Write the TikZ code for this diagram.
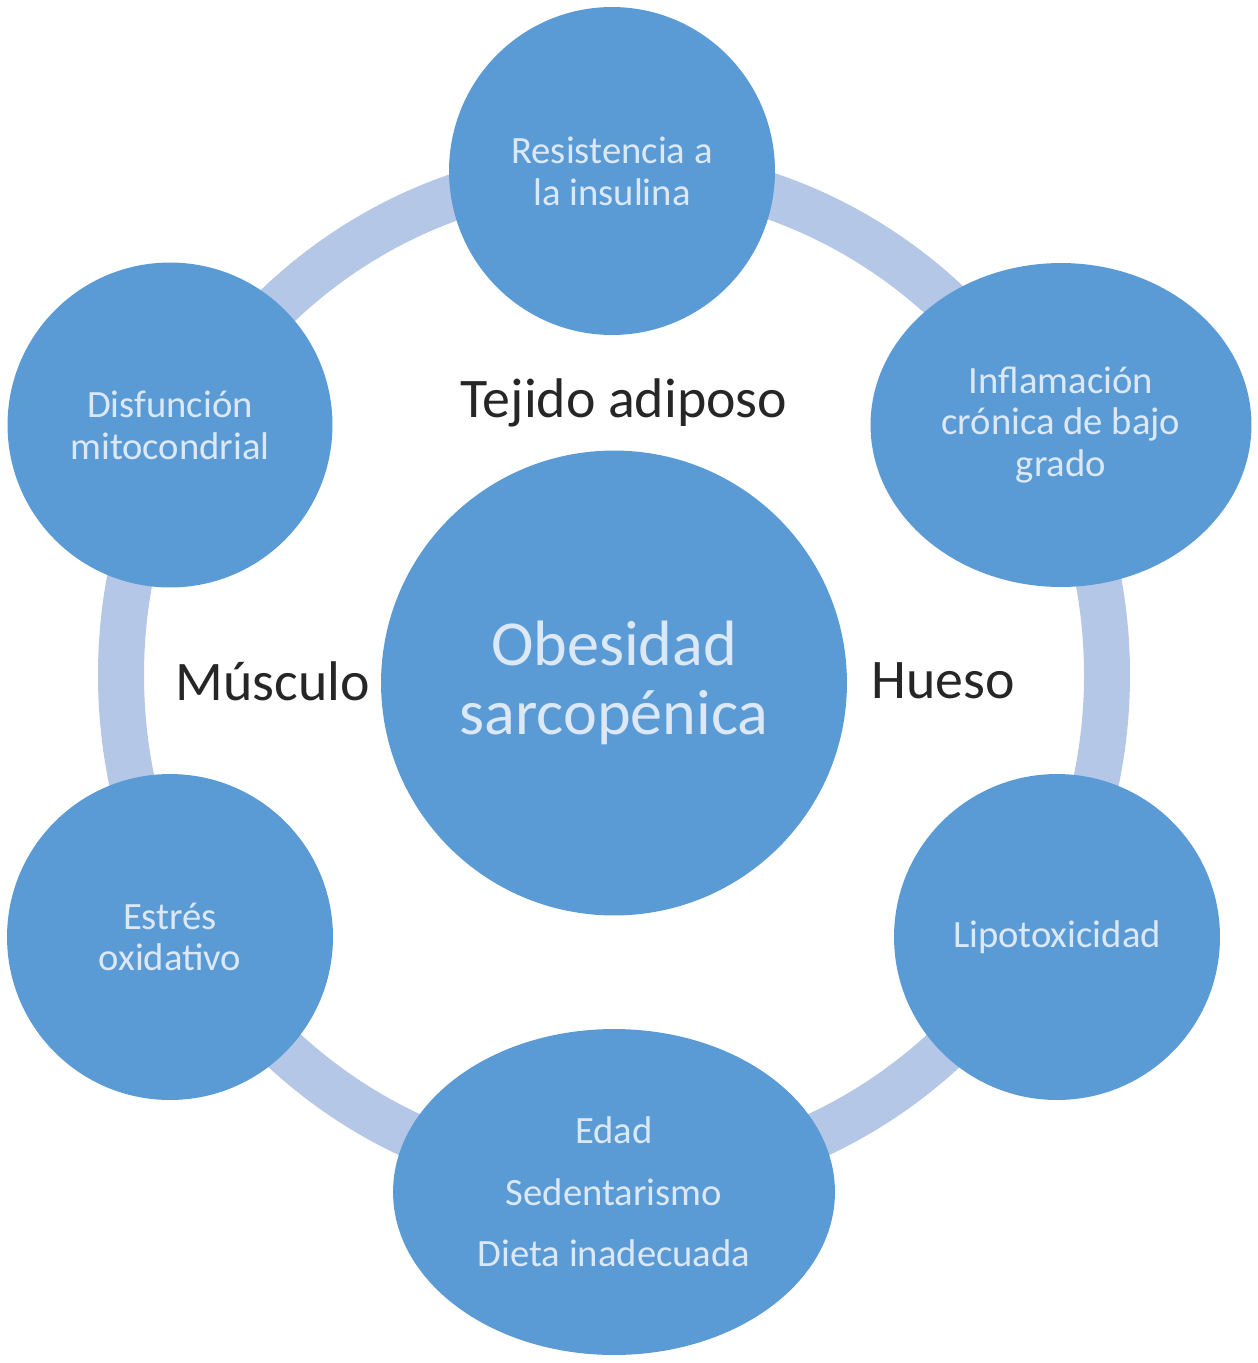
\documentclass[tikz,border=0pt]{standalone}
\usepackage{fontspec}
\setmainfont{Carlito}
\usetikzlibrary{shapes.geometric}
\definecolor{circblue}{HTML}{5B9BD5}
\definecolor{ringblue}{HTML}{B4C7E7}
\definecolor{paletext}{HTML}{DCE8F5}
\definecolor{labeltext}{HTML}{262626}
\tikzset{
  bubble/.style={ellipse, fill=circblue, draw=none, inner sep=0pt, align=center,
    text=paletext, font={\fontsize{22}{23.8}\selectfont}},
  sidelabel/.style={anchor=base, text=labeltext, font={\fontsize{31.8}{34}\selectfont}},
  ringband/.style={draw=ringblue, line width=0.92cm}
}
\begin{document}
\begin{tikzpicture}[x=0.02cm, y=-0.02cm]
\useasboundingbox (0,0) rectangle (1258,1363);
\fill[white] (0,0) rectangle (1258,1363);
% ring
\draw[ringband] (614,675) ellipse [x radius=493, y radius=505];
% outer bubbles
\node[bubble, minimum width=6.52cm, minimum height=6.56cm] (top) at (612,171) {Resistencia a\\la insulina};
\node[bubble, minimum width=7.62cm, minimum height=6.48cm] (ur) at (1061,425) {Inflamación\\crónica de bajo\\grado};
\node[bubble, minimum width=6.52cm, minimum height=6.52cm] (lr) at (1057,937) {Lipotoxicidad};
\node[bubble, minimum width=8.84cm, minimum height=6.52cm,
      font={\fontsize{22}{35}\selectfont}] (bot) at (614,1192) {Edad\\Sedentarismo\\Dieta inadecuada};
\node[bubble, minimum width=6.52cm, minimum height=6.52cm] (ll) at (170,937) {Estrés\\oxidativo};
\node[bubble, minimum width=6.5cm, minimum height=6.5cm] (ul) at (170,425) {Disfunción\\mitocondrial};
% center
\node[bubble, minimum width=9.32cm, minimum height=9.3cm,
      font={\fontsize{36.5}{39.7}\selectfont}] (center) at (614,683) {Obesidad\\sarcopénica};
% labels
\node[sidelabel] (tejido) at (624,417) {Tejido adiposo};
\node[sidelabel] (musculo) at (273,700) {Músculo};
\node[sidelabel] (hueso) at (943,698) {Hueso};
\end{tikzpicture}
\end{document}
